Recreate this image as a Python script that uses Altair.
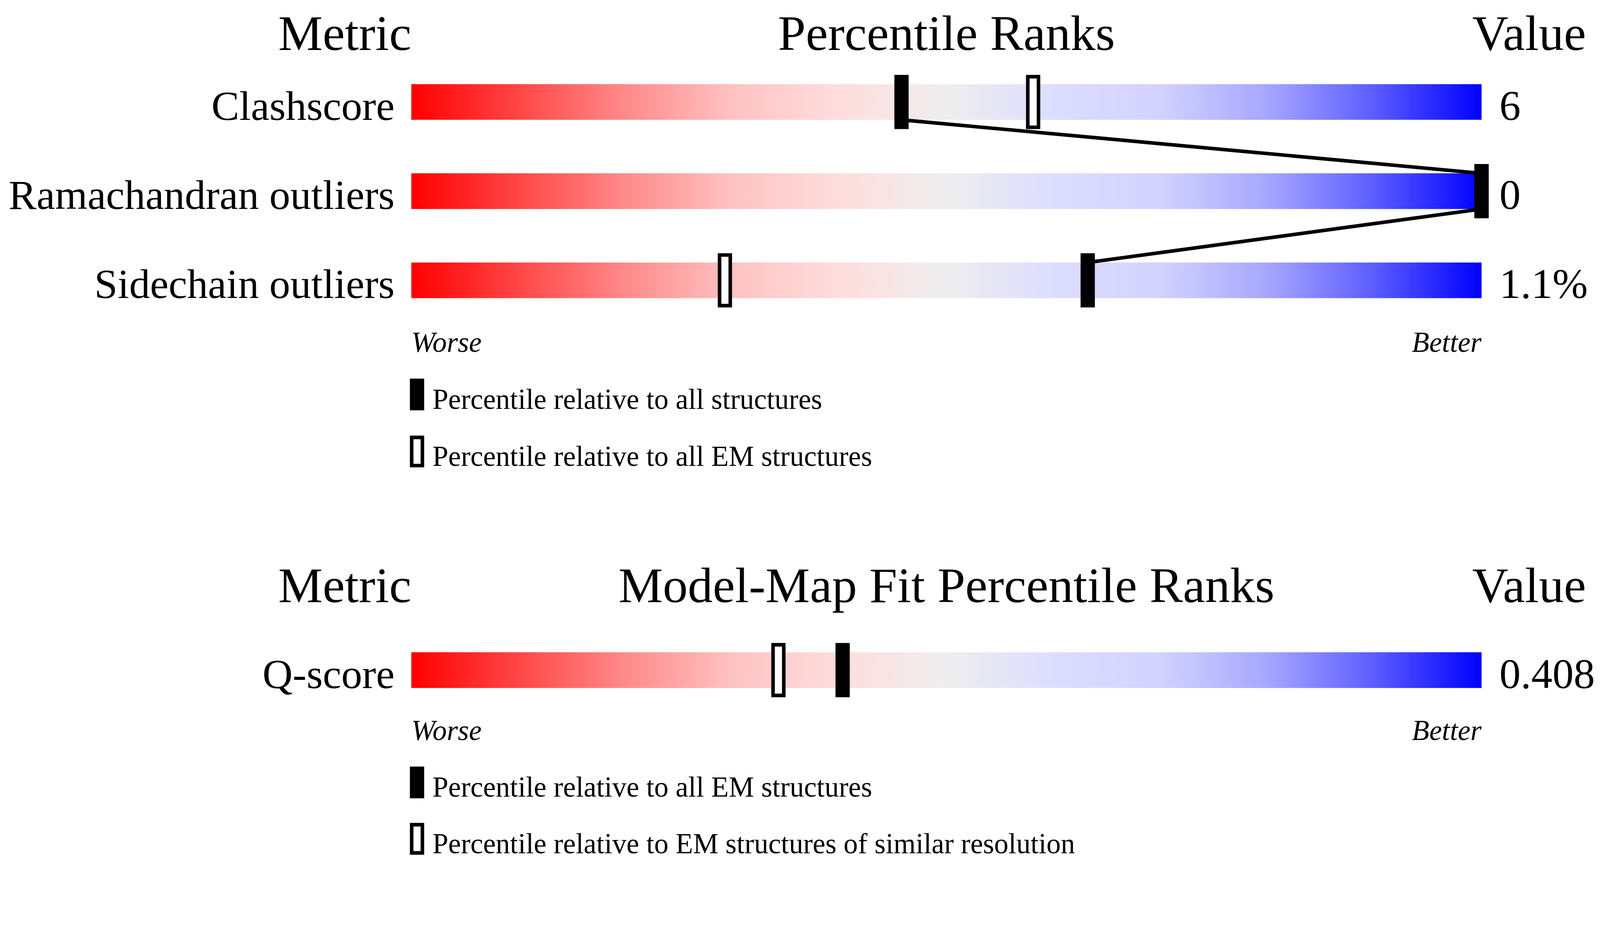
import altair as alt
import pandas as pd

FONT = "Liberation Serif"

# ---------------- data ----------------
P1_TITLE = "Percentile Ranks"
P1_METRICS = ["Clashscore", "Ramachandran outliers", "Sidechain outliers"]
P1_VALUES = ["6", "0", "1.1%"]
P1_PCT_FILLED = [45.8, 100.0, 63.2]   # percentile relative to all structures
P1_PCT_OPEN = [58.1, 100.0, 29.3]     # percentile relative to all EM structures
P1_LEGEND = ["Percentile relative to all structures",
             "Percentile relative to all EM structures"]

P2_TITLE = "Model-Map Fit Percentile Ranks"
P2_METRICS = ["Q-score"]
P2_VALUES = ["0.408"]
P2_PCT_FILLED = [40.3]                # percentile relative to all EM structures
P2_PCT_OPEN = [34.3]                  # relative to EM structures of similar resolution
P2_LEGEND = ["Percentile relative to all EM structures",
             "Percentile relative to EM structures of similar resolution"]

COL_HEADERS = ["Metric", "Value"]
AXIS_ENDS = ["Worse", "Better"]

# ---------------- style / layout (measured in screenshot pixels) ----------------
GRADIENT_OFFSETS = [0.0, 0.1, 0.2, 0.3, 0.4, 0.5, 0.6, 0.7, 0.8, 0.9, 1.0]
GRADIENT_COLORS = ["#ff0000", "#ff4646", "#ff8a8a", "#ffc2c2", "#ffdddd", "#eeeeee",
                   "#ddddff", "#d2d2ff", "#a6a6ff", "#5c5cff", "#0000ff"]

DPR = 4485 / 4096            # screenshot pixels per CSS pixel


def px(v):
    return v / DPR


BAR_X0, BAR_X1 = 1153, 4153  # slider extent in the picture
ROW_PX = 250                 # distance between metric rows
BAR_PX = 100                 # slider thickness
FIRST_ROW_ABS = 286          # centre of first slider
SVG_W = 4078                 # css px (must stay inside the page)
SVG_H = 2240
PLOT_W = px(BAR_X1 - BAR_X0)
PAD_L = px(BAR_X0) - 8
PAD = {"left": PAD_L, "top": 0, "right": SVG_W - PAD_L - PLOT_W, "bottom": 0}
ROW_CSS = px(ROW_PX)
Y_TOP = -(px(FIRST_ROW_ABS) - 8) / ROW_CSS
Y_BOT = Y_TOP + SVG_H / ROW_CSS
PANEL_FIRST_ROW = [0.0, 6.372]
HEADER_DY = [-146, -191]
ENDS_DY = [201, 196]
LEG_DY = [[320, 480], [315, 473]]
LEG_TEXT_DY = 40

panels = [
    dict(title=P1_TITLE, metrics=P1_METRICS, values=P1_VALUES,
         filled=P1_PCT_FILLED, open=P1_PCT_OPEN, legend=P1_LEGEND),
    dict(title=P2_TITLE, metrics=P2_METRICS, values=P2_VALUES,
         filled=P2_PCT_FILLED, open=P2_PCT_OPEN, legend=P2_LEGEND),
]

half = BAR_PX / 2 / ROW_PX
bars, ticks_open, ticks_filled, line_pts, texts, leg = [], [], [], [], [], []
for pi, p in enumerate(panels):
    r0 = PANEL_FIRST_ROW[pi]
    n = len(p["metrics"])
    rows = [r0 + i for i in range(n)]
    last = rows[-1]
    seq = 0
    for i, m in enumerate(p["metrics"]):
        r = rows[i]
        bars.append(dict(x=0, x2=100, y=r - half, y2=r + half))
        ticks_open.append(dict(x=p["open"][i], y=r, kind="open"))
        ticks_filled.append(dict(x=p["filled"][i], y=r, kind="filled"))
        texts.append(dict(text=m, x=0, y=r + half, grp="label"))
        texts.append(dict(text=p["values"][i], x=100, y=r + half, grp="value"))
        if n > 1:
            if i > 0:
                line_pts.append(dict(x=p["filled"][i], y=r - half, seq=seq, panel=pi)); seq += 1
            if i < n - 1:
                line_pts.append(dict(x=p["filled"][i], y=r + half, seq=seq, panel=pi)); seq += 1
    hy = r0 + HEADER_DY[pi] / ROW_PX
    texts.append(dict(text=COL_HEADERS[0], x=0, y=hy, grp="head_r"))
    texts.append(dict(text=p["title"], x=50, y=hy, grp="head_c"))
    texts.append(dict(text=COL_HEADERS[1], x=100, y=hy, grp="head_l"))
    ey = last + ENDS_DY[pi] / ROW_PX
    texts.append(dict(text=AXIS_ENDS[0], x=0, y=ey, grp="end_l"))
    texts.append(dict(text=AXIS_ENDS[1], x=100, y=ey, grp="end_r"))
    for k, lab in enumerate(p["legend"]):
        leg.append(dict(x=0, y=last + LEG_DY[pi][k] / ROW_PX, kind=["filled", "open"][k]))
        texts.append(dict(text=lab, x=0, y=last + (LEG_DY[pi][k] + LEG_TEXT_DY) / ROW_PX, grp="legend"))

bar_df = pd.DataFrame(bars)
tick_df = pd.DataFrame(ticks_open + ticks_filled)
line_df = pd.DataFrame(line_pts)
text_df = pd.DataFrame(texts)
leg_df = pd.DataFrame(leg)

xs = alt.Scale(domain=[0, 100], nice=False, zero=False)
ys = alt.Scale(domain=[Y_TOP, Y_BOT], nice=False, zero=False, reverse=True)
X = alt.X("x:Q", scale=xs, axis=None)
Y = alt.Y("y:Q", scale=ys, axis=None)
FILL = alt.Fill("kind:N", scale=alt.Scale(domain=["filled", "open"], range=["black", "white"]), legend=None)

grad = alt.LinearGradient(
    gradient="linear",
    stops=[alt.GradientStop(offset=o, color=c) for o, c in zip(GRADIENT_OFFSETS, GRADIENT_COLORS)],
    x1=0, x2=1, y1=0, y2=0,
)

STROKE = px(10)
bar_layer = alt.Chart(bar_df).mark_rect(fill=grad).encode(x=X, x2="x2:Q", y=Y, y2="y2:Q")
line_layer = alt.Chart(line_df).mark_line(color="black", strokeWidth=STROKE).encode(
    x=X, y=Y, order="seq:Q", detail="panel:N")
tick_layer = alt.Chart(tick_df).mark_tick(
    orient="vertical", size=px(152 - 10), thickness=px(40 - 10),
    stroke="black", strokeWidth=STROKE, opacity=1
).encode(x=X, y=Y, fill=FILL)
leg_layer = alt.Chart(leg_df).mark_tick(
    orient="vertical", size=px(89 - 10), thickness=px(40 - 10),
    stroke="black", strokeWidth=STROKE, opacity=1, xOffset=px(16)
).encode(x=X, y=Y, fill=FILL)

TEXT_STYLE = {
    "label": dict(align="right", fontSize=px(117), dx=px(-47)),
    "value": dict(align="left", fontSize=px(119), dx=px(50)),
    "head_r": dict(align="right", fontSize=px(140)),
    "head_c": dict(align="center", fontSize=px(140)),
    "head_l": dict(align="left", fontSize=px(140), dx=px(-26)),
    "end_l": dict(align="left", fontSize=px(80), fontStyle="italic"),
    "end_r": dict(align="right", fontSize=px(80), fontStyle="italic"),
    "legend": dict(align="left", fontSize=px(80), dx=px(59)),
}
text_layers = []
for g, st in TEXT_STYLE.items():
    text_layers.append(
        alt.Chart(text_df).transform_filter(alt.datum.grp == g)
        .mark_text(font=FONT, baseline="alphabetic", color="black", **st)
        .encode(x=X, y=Y, text="text:N")
    )

chart = alt.layer(bar_layer, line_layer, tick_layer, leg_layer, *text_layers).properties(
    width=PLOT_W, height=SVG_H,
    autosize=alt.AutoSizeParams(type="none"),
    padding=PAD,
    background="white",
).configure_view(stroke=None)

chart.save("out.html", embed_options={"renderer": "svg", "actions": False})
